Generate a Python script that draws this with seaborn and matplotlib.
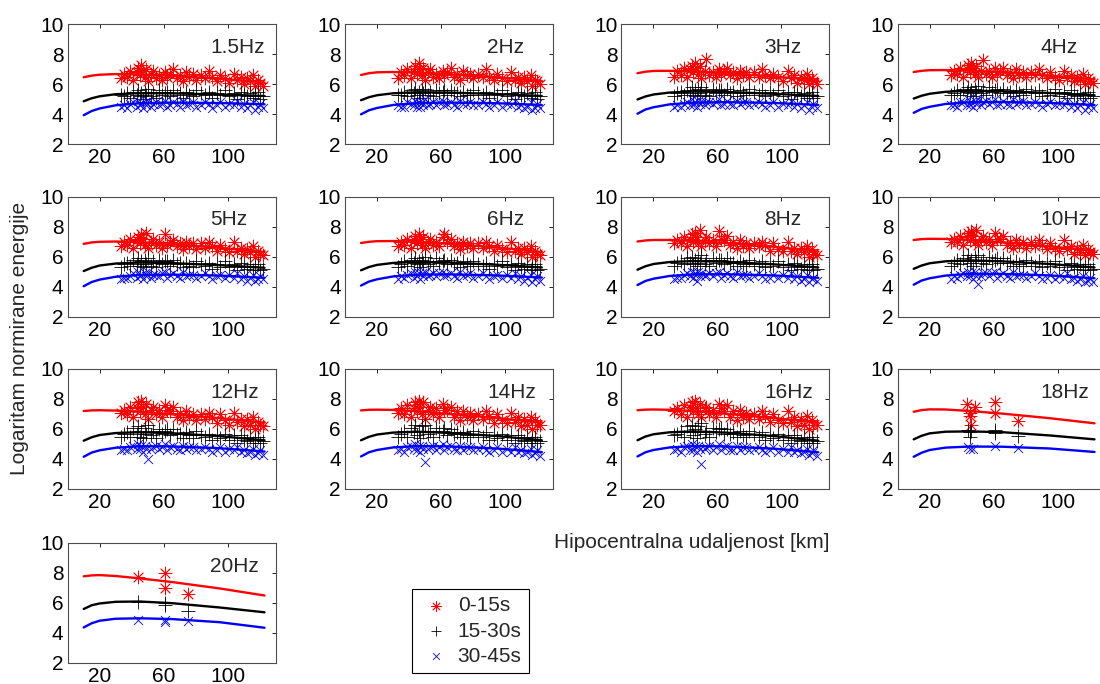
import numpy as np
import pandas as pd
import matplotlib
matplotlib.use('Agg')
import matplotlib.pyplot as plt
import seaborn as sns

# --------- DATA ----------
freq_labels = ['1.5Hz', '2Hz', '3Hz', '4Hz', '5Hz', '6Hz', '8Hz', '10Hz',
               '12Hz', '14Hz', '16Hz', '18Hz', '20Hz']
window_labels = ['0-15s', '15-30s', '30-45s']

# hypocentral distance of the events used for 1.5 - 16 Hz
dist_km = [33, 35, 37, 39, 41, 43, 44, 45, 46, 47, 48, 49, 50, 52, 53, 55,
           57, 59, 61, 62, 64, 66, 68, 70, 72, 74, 76, 78, 80, 83, 86, 88,
           90, 93, 95, 98, 101, 104, 106, 108, 110, 112, 114, 116, 117, 119, 120, 122]

# window 0-15s, one list per frequency (1.5 ... 16 Hz)
red_pts = [
    [6.4, 6.7, 6.5, 6.9, 6.3, 6.8, 7.1, 6.6, 7.3, 6.9, 6.5, 7.0, 6.2, 6.7, 6.9, 6.4, 6.6, 6.3, 6.8, 6.5, 6.7, 7.0, 6.4, 6.6, 6.2, 6.8, 6.5, 6.7, 6.3, 6.6, 6.4, 6.9, 6.5, 6.2, 6.6, 6.4, 6.1, 6.7, 6.3, 6.5, 6.0, 6.4, 6.2, 6.6, 5.9, 6.3, 6.1, 5.9],
    [6.4, 6.8, 6.6, 7.0, 6.4, 6.9, 7.2, 6.7, 7.4, 7.0, 6.6, 7.1, 6.3, 6.8, 7.0, 6.5, 6.7, 6.4, 6.9, 6.6, 6.8, 7.1, 6.5, 6.7, 6.3, 6.9, 6.6, 6.7, 6.4, 6.7, 6.5, 7.0, 6.5, 6.3, 6.7, 6.4, 6.2, 6.8, 6.3, 6.5, 6.1, 6.5, 6.2, 6.6, 5.9, 6.3, 6.2, 6.0],
    [6.5, 6.9, 6.6, 7.1, 6.5, 7.0, 7.2, 6.8, 7.4, 7.1, 6.7, 7.2, 6.4, 6.9, 7.7, 6.6, 6.8, 6.5, 7.0, 6.7, 6.9, 7.1, 6.6, 6.8, 6.4, 6.9, 6.6, 6.8, 6.5, 6.8, 6.5, 7.0, 6.6, 6.4, 6.7, 6.5, 6.2, 6.9, 6.4, 6.6, 6.1, 6.5, 6.3, 6.7, 6.0, 6.4, 6.2, 6.0],
    [6.6, 6.9, 6.7, 7.1, 6.5, 7.0, 7.3, 6.8, 7.4, 7.1, 6.7, 7.2, 6.5, 6.9, 7.6, 6.7, 6.9, 6.5, 7.1, 6.7, 6.9, 7.1, 6.6, 6.8, 6.4, 7.0, 6.6, 6.8, 6.5, 6.8, 6.6, 7.0, 6.6, 6.4, 6.8, 6.5, 6.3, 6.9, 6.4, 6.6, 6.2, 6.5, 6.3, 6.7, 6.0, 6.4, 6.2, 6.1],
    [6.7, 7.0, 6.8, 7.2, 6.6, 7.1, 7.3, 6.9, 7.5, 7.2, 6.8, 7.6, 6.6, 7.0, 7.2, 6.8, 7.0, 6.6, 7.5, 6.8, 7.0, 7.1, 6.7, 6.9, 6.5, 7.0, 6.7, 6.9, 6.5, 6.9, 6.6, 7.0, 6.7, 6.4, 6.8, 6.5, 6.3, 7.0, 6.4, 6.6, 6.2, 6.5, 6.3, 6.7, 6.0, 6.4, 6.2, 6.1],
    [6.7, 7.0, 6.8, 7.2, 6.6, 7.1, 7.4, 6.9, 7.5, 7.2, 6.8, 7.3, 6.6, 7.0, 7.2, 6.8, 7.0, 6.7, 7.3, 7.5, 7.0, 7.2, 6.7, 6.9, 6.5, 7.0, 6.7, 6.9, 6.6, 6.9, 6.6, 7.0, 6.7, 6.4, 6.8, 6.5, 6.3, 7.0, 6.4, 6.6, 6.2, 6.6, 6.3, 6.7, 6.0, 6.4, 6.2, 6.1],
    [6.9, 7.1, 6.9, 7.3, 6.7, 7.2, 7.5, 7.0, 7.6, 7.3, 6.9, 7.8, 6.7, 7.1, 7.3, 6.9, 7.1, 6.7, 7.7, 7.2, 7.1, 7.4, 6.8, 7.0, 6.6, 7.1, 6.7, 6.9, 6.6, 6.9, 6.7, 7.0, 6.8, 6.4, 6.9, 6.5, 6.4, 7.0, 6.4, 6.6, 6.2, 6.6, 6.3, 6.7, 6.0, 6.5, 6.2, 6.1],
    [7.0, 7.2, 7.0, 7.4, 6.8, 7.3, 7.6, 7.1, 7.7, 7.4, 7.0, 7.8, 6.8, 7.2, 7.4, 7.0, 7.2, 6.8, 7.6, 7.2, 7.2, 7.4, 6.8, 7.0, 6.6, 7.1, 6.8, 7.0, 6.6, 7.0, 6.7, 7.1, 6.8, 6.5, 6.9, 6.6, 6.4, 7.1, 6.5, 6.7, 6.2, 6.6, 6.3, 6.8, 6.1, 6.5, 6.3, 6.2],
    [7.1, 7.3, 7.0, 7.5, 6.8, 7.4, 7.8, 7.2, 7.9, 7.5, 7.0, 7.7, 6.7, 7.3, 7.5, 7.0, 7.3, 6.8, 7.6, 7.3, 7.2, 7.5, 6.8, 7.1, 6.6, 7.2, 6.8, 7.0, 6.6, 7.0, 6.7, 7.1, 6.8, 6.4, 7.0, 6.6, 6.3, 7.1, 6.5, 6.7, 6.2, 6.7, 6.3, 6.8, 6.0, 6.5, 6.3, 6.2],
    [7.1, 7.4, 7.0, 7.6, 6.8, 7.4, 7.8, 7.2, 7.9, 7.5, 7.0, 7.8, 6.7, 7.3, 7.5, 7.0, 7.4, 6.8, 7.7, 7.3, 7.3, 7.5, 6.8, 7.2, 6.6, 7.2, 6.8, 7.1, 6.6, 7.0, 6.7, 7.2, 6.9, 6.4, 7.0, 6.6, 6.4, 7.1, 6.5, 6.8, 6.2, 6.7, 6.3, 6.8, 6.0, 6.6, 6.3, 6.3],
    [7.2, 7.4, 7.0, 7.6, 6.8, 7.5, 7.8, 7.2, 7.9, 7.4, 7.0, 7.7, 6.8, 7.4, 7.5, 7.0, 7.3, 6.8, 7.7, 7.4, 7.2, 7.6, 6.8, 7.2, 6.6, 7.3, 6.8, 7.1, 6.7, 7.0, 6.7, 7.2, 6.9, 6.5, 7.0, 6.6, 6.4, 7.2, 6.5, 6.8, 6.2, 6.7, 6.3, 6.9, 6.0, 6.6, 6.3, 6.3],
]

# window 15-30s
black_pts = [
    [5.3, 5.2, 5.4, 5.1, 5.5, 5.3, 5.6, 5.2, 5.4, 5.0, 5.5, 5.3, 5.7, 5.2, 5.4, 5.1, 5.6, 5.3, 5.4, 5.5, 5.2, 5.6, 5.3, 5.4, 5.1, 5.5, 5.3, 5.2, 5.6, 5.4, 5.3, 5.5, 5.1, 5.4, 5.3, 5.6, 5.2, 5.4, 5.0, 5.5, 5.3, 5.2, 5.4, 5.1, 5.3, 5.5, 5.0, 5.2],
    [5.3, 5.3, 5.5, 5.2, 5.6, 5.4, 5.7, 5.3, 5.5, 5.1, 5.6, 5.4, 5.7, 5.3, 5.5, 5.2, 5.6, 5.4, 5.5, 5.6, 5.3, 5.6, 5.4, 5.4, 5.2, 5.5, 5.3, 5.3, 5.6, 5.4, 5.3, 5.5, 5.1, 5.4, 5.3, 5.6, 5.2, 5.4, 5.0, 5.5, 5.3, 5.2, 5.4, 5.1, 5.3, 5.5, 5.0, 5.2],
    [5.2, 5.4, 5.5, 5.3, 5.6, 5.4, 5.8, 5.3, 5.6, 5.2, 5.7, 5.4, 5.8, 5.3, 5.6, 5.2, 5.7, 5.4, 5.6, 5.6, 5.3, 5.7, 5.4, 5.5, 5.2, 5.6, 5.4, 5.3, 5.7, 5.5, 5.3, 5.6, 5.2, 5.5, 5.3, 5.6, 5.2, 5.5, 5.0, 5.5, 5.3, 5.2, 5.4, 5.1, 5.3, 5.5, 5.1, 5.2],
    [5.3, 5.4, 5.6, 5.3, 5.7, 5.5, 5.8, 5.4, 5.6, 5.2, 5.7, 5.5, 5.9, 5.4, 5.6, 5.3, 5.8, 5.5, 5.6, 5.7, 5.4, 5.7, 5.4, 5.5, 5.2, 5.6, 5.4, 5.3, 5.7, 5.5, 5.4, 5.6, 5.2, 5.5, 5.3, 5.7, 5.2, 5.5, 5.1, 5.6, 5.3, 5.2, 5.4, 5.1, 5.3, 5.5, 5.1, 5.2],
    [5.3, 5.5, 5.6, 5.4, 5.8, 5.5, 5.9, 5.4, 5.7, 5.3, 5.8, 5.5, 5.9, 5.4, 5.7, 5.3, 5.8, 5.5, 5.7, 5.7, 5.4, 5.8, 5.5, 5.6, 5.3, 5.6, 5.4, 5.3, 5.7, 5.5, 5.4, 5.6, 5.2, 5.5, 5.3, 5.7, 5.3, 5.5, 5.1, 5.6, 5.3, 5.2, 5.5, 5.1, 5.3, 5.5, 5.1, 5.2],
    [5.3, 5.5, 5.7, 5.4, 5.8, 5.6, 5.9, 5.5, 5.7, 5.3, 5.8, 5.6, 6.0, 5.5, 5.7, 5.4, 5.9, 5.6, 5.7, 5.8, 5.5, 5.8, 5.5, 5.6, 5.3, 5.7, 5.5, 5.4, 5.7, 5.5, 5.4, 5.6, 5.2, 5.5, 5.4, 5.7, 5.3, 5.5, 5.1, 5.6, 5.3, 5.2, 5.5, 5.1, 5.3, 5.5, 5.1, 5.2],
    [5.4, 5.6, 5.7, 5.5, 5.9, 5.6, 6.0, 5.5, 5.8, 5.4, 5.9, 5.6, 6.1, 5.5, 5.8, 5.4, 5.9, 5.6, 5.8, 5.8, 5.5, 5.9, 5.6, 5.6, 5.4, 5.7, 5.5, 5.4, 5.8, 5.5, 5.4, 5.7, 5.3, 5.5, 5.4, 5.7, 5.3, 5.5, 5.1, 5.6, 5.3, 5.2, 5.5, 5.1, 5.3, 5.5, 5.1, 5.2],
    [5.4, 5.6, 5.8, 5.5, 5.9, 5.7, 6.1, 5.6, 5.8, 5.4, 6.0, 5.7, 6.1, 5.6, 5.8, 5.5, 6.0, 5.7, 5.8, 5.9, 5.6, 5.9, 5.6, 5.7, 5.4, 5.7, 5.5, 5.4, 5.8, 5.6, 5.4, 5.7, 5.3, 5.6, 5.4, 5.7, 5.3, 5.5, 5.1, 5.6, 5.3, 5.2, 5.5, 5.1, 5.3, 5.5, 5.1, 5.2],
    [5.5, 5.7, 5.8, 5.5, 6.1, 5.7, 6.2, 5.5, 5.9, 5.4, 6.1, 5.7, 6.3, 5.6, 5.9, 5.4, 6.0, 5.7, 5.9, 6.0, 5.6, 6.0, 5.7, 5.7, 5.4, 5.8, 5.6, 5.4, 5.9, 5.6, 5.5, 5.7, 5.3, 5.6, 5.4, 5.7, 5.3, 5.6, 5.1, 5.6, 5.3, 5.2, 5.5, 5.1, 5.3, 5.5, 5.1, 5.2],
    [5.5, 5.7, 5.9, 5.5, 6.1, 5.8, 6.3, 5.6, 5.9, 5.4, 6.2, 5.8, 6.3, 5.7, 5.9, 5.5, 6.1, 5.8, 5.9, 6.1, 5.6, 6.0, 5.7, 5.8, 5.5, 5.8, 5.6, 5.5, 5.9, 5.6, 5.5, 5.8, 5.3, 5.6, 5.4, 5.7, 5.3, 5.6, 5.1, 5.6, 5.3, 5.2, 5.5, 5.1, 5.3, 5.5, 5.1, 5.2],
    [5.6, 5.7, 5.9, 5.5, 6.2, 5.8, 6.3, 5.6, 6.0, 5.4, 6.2, 5.8, 6.4, 5.7, 5.9, 5.5, 6.1, 5.8, 6.0, 6.1, 5.7, 6.0, 5.7, 5.8, 5.5, 5.9, 5.6, 5.5, 5.9, 5.7, 5.5, 5.8, 5.3, 5.6, 5.4, 5.7, 5.3, 5.6, 5.1, 5.6, 5.3, 5.2, 5.5, 5.1, 5.3, 5.5, 5.1, 5.2],
]

# window 30-45s
blue_pts = [
    [4.5, 4.6, 4.4, 4.7, 4.8, 4.5, 4.9, 4.6, 4.7, 4.4, 4.8, 4.6, 4.9, 4.5, 4.7, 4.8, 4.6, 4.7, 4.9, 4.5, 4.6, 4.8, 4.7, 4.5, 4.9, 4.6, 4.7, 4.8, 4.5, 4.6, 4.8, 4.7, 4.4, 4.6, 4.8, 4.5, 4.7, 4.6, 4.9, 4.5, 4.7, 4.4, 4.6, 4.8, 4.3, 4.5, 4.7, 4.4],
    [4.6, 4.5, 4.5, 4.8, 4.7, 4.6, 4.9, 4.5, 4.8, 4.5, 4.8, 4.6, 5.0, 4.6, 4.7, 4.8, 4.6, 4.8, 4.9, 4.6, 4.7, 4.8, 4.6, 4.5, 4.9, 4.7, 4.7, 4.8, 4.6, 4.6, 4.8, 4.7, 4.5, 4.6, 4.8, 4.5, 4.7, 4.6, 4.9, 4.5, 4.6, 4.4, 4.5, 4.8, 4.3, 4.4, 4.7, 4.4],
    [4.5, 4.6, 4.5, 4.7, 4.8, 4.6, 5.0, 4.6, 4.8, 4.5, 4.9, 4.7, 4.9, 4.6, 4.8, 4.8, 4.7, 4.8, 5.0, 4.6, 4.7, 4.9, 4.7, 4.6, 4.9, 4.7, 4.8, 4.8, 4.6, 4.7, 4.8, 4.7, 4.5, 4.6, 4.8, 4.5, 4.7, 4.6, 4.9, 4.5, 4.7, 4.4, 4.6, 4.8, 4.3, 4.5, 4.7, 4.4],
    [4.6, 4.6, 4.5, 4.8, 4.8, 4.6, 5.0, 4.6, 4.8, 4.5, 4.9, 4.7, 5.0, 4.6, 4.8, 4.9, 4.7, 4.8, 5.0, 4.6, 4.7, 4.9, 4.7, 4.6, 5.0, 4.7, 4.8, 4.9, 4.6, 4.7, 4.8, 4.7, 4.5, 4.7, 4.8, 4.6, 4.7, 4.6, 4.9, 4.5, 4.7, 4.4, 4.6, 4.8, 4.3, 4.5, 4.7, 4.4],
    [4.5, 4.6, 4.6, 4.7, 4.9, 4.6, 5.0, 4.7, 4.8, 4.5, 4.9, 4.7, 5.0, 4.6, 4.8, 4.8, 4.7, 4.9, 5.0, 4.6, 4.8, 4.9, 4.7, 4.6, 5.0, 4.7, 4.8, 4.8, 4.6, 4.7, 4.9, 4.7, 4.5, 4.7, 4.8, 4.6, 4.8, 4.6, 4.9, 4.5, 4.7, 4.4, 4.6, 4.8, 4.4, 4.5, 4.7, 4.5],
    [4.5, 4.7, 4.6, 4.8, 4.9, 4.6, 5.0, 4.7, 4.9, 4.5, 4.9, 4.7, 5.0, 4.7, 4.8, 4.9, 4.7, 4.9, 5.0, 4.7, 4.8, 4.9, 4.7, 4.6, 5.0, 4.7, 4.8, 4.9, 4.6, 4.7, 4.9, 4.7, 4.5, 4.7, 4.8, 4.6, 4.8, 4.6, 4.9, 4.5, 4.7, 4.4, 4.6, 4.8, 4.3, 4.5, 4.7, 4.4],
    [4.5, 4.6, 4.6, 4.8, 4.9, 4.7, 5.0, 4.6, 4.9, 4.4, 5.0, 4.7, 4.9, 4.7, 4.8, 4.9, 4.7, 4.9, 5.0, 4.6, 4.8, 4.9, 4.7, 4.6, 5.0, 4.7, 4.8, 4.8, 4.6, 4.7, 4.9, 4.7, 4.5, 4.6, 4.8, 4.6, 4.8, 4.6, 4.9, 4.5, 4.7, 4.4, 4.5, 4.8, 4.3, 4.5, 4.6, 4.4],
    [4.5, 4.7, 4.6, 4.8, 4.9, 4.7, 5.0, 4.7, 4.9, 4.5, 5.0, 4.7, 4.2, 4.7, 4.9, 4.9, 4.7, 4.9, 5.0, 4.6, 4.8, 4.9, 4.7, 4.6, 5.0, 4.7, 4.8, 4.8, 4.6, 4.7, 4.9, 4.7, 4.5, 4.6, 4.8, 4.5, 4.7, 4.6, 4.9, 4.5, 4.6, 4.4, 4.5, 4.7, 4.3, 4.4, 4.6, 4.3],
    [4.6, 4.7, 4.6, 4.8, 4.9, 4.7, 5.0, 4.7, 4.9, 4.5, 4.9, 4.7, 4.0, 4.7, 4.8, 4.9, 4.7, 4.8, 5.0, 4.6, 4.8, 4.9, 4.7, 4.6, 4.9, 4.7, 4.8, 4.8, 4.6, 4.7, 4.8, 4.7, 4.5, 4.6, 4.8, 4.5, 4.7, 4.6, 4.8, 4.5, 4.6, 4.4, 4.5, 4.7, 4.3, 4.4, 4.6, 4.3],
    [4.6, 4.7, 4.5, 4.8, 4.9, 4.7, 5.0, 4.6, 4.9, 4.5, 4.9, 4.7, 3.8, 4.7, 4.8, 4.9, 4.6, 4.8, 5.0, 4.6, 4.8, 4.9, 4.7, 4.6, 4.9, 4.6, 4.8, 4.8, 4.6, 4.7, 4.8, 4.6, 4.5, 4.6, 4.8, 4.5, 4.7, 4.5, 4.8, 4.5, 4.6, 4.4, 4.5, 4.7, 4.3, 4.4, 4.6, 4.2],
    [4.6, 4.7, 4.5, 4.8, 4.9, 4.6, 5.0, 4.6, 4.9, 4.5, 4.9, 4.7, 3.65, 4.7, 4.8, 4.9, 4.6, 4.8, 5.0, 4.6, 4.8, 4.9, 4.6, 4.6, 4.9, 4.6, 4.8, 4.8, 4.6, 4.7, 4.8, 4.6, 4.5, 4.6, 4.8, 4.5, 4.7, 4.5, 4.8, 4.5, 4.6, 4.4, 4.5, 4.7, 4.3, 4.4, 4.6, 4.2],
]

# 18 Hz and 20 Hz: only a few events
red_km_18 = [43, 45, 45, 46, 48, 61, 61, 75]
red_val_18 = [7.7, 7.1, 6.9, 6.3, 7.5, 7.8, 7.05, 6.55]
black_km_18 = [44, 45, 45, 46, 61, 61, 75]
black_val_18 = [5.95, 5.8, 5.5, 5.9, 5.95, 5.75, 5.55]
blue_km_18 = [44, 45, 47, 61, 75]
blue_val_18 = [4.8, 4.7, 4.7, 4.85, 4.75]

red_km_20 = [44, 61, 61, 75]
red_val_20 = [7.75, 8.0, 7.0, 6.6]
black_km_20 = [44, 61, 61, 75]
black_val_20 = [6.1, 6.0, 5.85, 5.45]
blue_km_20 = [44, 61, 61, 75]
blue_val_20 = [4.85, 4.85, 4.75, 4.8]

# fitted attenuation curves, one list per frequency
curve_km = [10, 15, 20, 30, 45, 65, 95, 123]
red_fit = [
    [6.45, 6.56, 6.62, 6.66, 6.64, 6.55, 6.35, 6.10],
    [6.60, 6.72, 6.78, 6.80, 6.76, 6.65, 6.45, 6.20],
    [6.72, 6.82, 6.87, 6.88, 6.84, 6.72, 6.50, 6.25],
    [6.80, 6.88, 6.92, 6.93, 6.90, 6.78, 6.56, 6.30],
    [6.84, 6.94, 6.98, 7.00, 6.96, 6.82, 6.58, 6.30],
    [6.90, 6.98, 7.02, 7.03, 6.98, 6.85, 6.60, 6.30],
    [7.00, 7.07, 7.10, 7.10, 7.04, 6.90, 6.65, 6.33],
    [7.10, 7.16, 7.18, 7.17, 7.10, 6.95, 6.68, 6.37],
    [7.20, 7.24, 7.25, 7.23, 7.15, 6.99, 6.72, 6.42],
    [7.24, 7.28, 7.29, 7.27, 7.18, 7.01, 6.73, 6.43],
    [7.25, 7.29, 7.30, 7.28, 7.19, 7.02, 6.73, 6.43],
    [7.15, 7.26, 7.31, 7.30, 7.20, 7.03, 6.72, 6.38],
    [7.78, 7.84, 7.86, 7.80, 7.64, 7.40, 6.97, 6.50],
]
black_fit = [
    [4.85, 5.05, 5.18, 5.32, 5.39, 5.38, 5.30, 5.20],
    [4.92, 5.12, 5.25, 5.38, 5.45, 5.43, 5.33, 5.20],
    [4.97, 5.17, 5.30, 5.43, 5.50, 5.47, 5.35, 5.20],
    [5.03, 5.22, 5.35, 5.48, 5.55, 5.52, 5.40, 5.25],
    [5.03, 5.25, 5.40, 5.53, 5.60, 5.56, 5.42, 5.25],
    [5.08, 5.30, 5.44, 5.57, 5.64, 5.60, 5.45, 5.27],
    [5.12, 5.35, 5.50, 5.63, 5.70, 5.65, 5.48, 5.27],
    [5.18, 5.40, 5.55, 5.68, 5.74, 5.68, 5.50, 5.27],
    [5.22, 5.45, 5.60, 5.73, 5.79, 5.72, 5.52, 5.25],
    [5.25, 5.48, 5.63, 5.76, 5.82, 5.74, 5.53, 5.25],
    [5.25, 5.50, 5.65, 5.78, 5.84, 5.76, 5.53, 5.22],
    [5.31, 5.55, 5.71, 5.82, 5.84, 5.79, 5.57, 5.31],
    [5.60, 5.85, 5.97, 6.08, 6.10, 5.99, 5.70, 5.38],
]
blue_fit = [
    [3.92, 4.20, 4.37, 4.58, 4.72, 4.76, 4.73, 4.65],
    [3.98, 4.25, 4.40, 4.60, 4.73, 4.76, 4.72, 4.60],
    [4.02, 4.30, 4.45, 4.64, 4.76, 4.79, 4.74, 4.60],
    [4.08, 4.34, 4.48, 4.67, 4.78, 4.80, 4.74, 4.60],
    [4.02, 4.30, 4.46, 4.65, 4.77, 4.79, 4.73, 4.58],
    [4.06, 4.33, 4.48, 4.67, 4.79, 4.81, 4.74, 4.60],
    [4.10, 4.37, 4.52, 4.70, 4.81, 4.82, 4.74, 4.58],
    [4.12, 4.40, 4.55, 4.73, 4.84, 4.84, 4.74, 4.55],
    [4.15, 4.43, 4.58, 4.75, 4.85, 4.84, 4.72, 4.50],
    [4.17, 4.45, 4.60, 4.77, 4.86, 4.84, 4.70, 4.46],
    [4.17, 4.45, 4.60, 4.77, 4.86, 4.84, 4.69, 4.45],
    [4.15, 4.42, 4.60, 4.76, 4.83, 4.82, 4.70, 4.47],
    [4.37, 4.65, 4.82, 4.95, 4.98, 4.93, 4.72, 4.35],
]

# --------- STYLE ----------
sns.set_style('white')
plt.rcParams['font.family'] = ['Liberation Sans', 'DejaVu Sans']

FS = 15
W_PX, H_PX = 1100, 684
col_left = [67.7, 345.0, 621.5, 897.7]
row_top = [24, 196.5, 369, 543]
ax_w, ax_h = 208, 120

ASTER = (8, 2, 0)
styles = [
    dict(marker=ASTER, color='red', s=85),
    dict(marker='+', color='black', s=100),
    dict(marker='x', color='blue', s=42),
]

fig = plt.figure(figsize=(11, 6.84), dpi=100)

for i, lab in enumerate(freq_labels):
    r, c = divmod(i, 4)
    ax = fig.add_axes([col_left[c] / W_PX, 1 - (row_top[r] + ax_h) / H_PX,
                       ax_w / W_PX, ax_h / H_PX])

    if i < 11:
        pts = [(dist_km, red_pts[i]), (dist_km, black_pts[i]), (dist_km, blue_pts[i])]
    elif i == 11:
        pts = [(red_km_18, red_val_18), (black_km_18, black_val_18), (blue_km_18, blue_val_18)]
    else:
        pts = [(red_km_20, red_val_20), (black_km_20, black_val_20), (blue_km_20, blue_val_20)]

    # fitted curves first, measured points on top
    for fit, col in zip([red_fit[i], black_fit[i], blue_fit[i]], ['red', 'black', 'blue']):
        sns.lineplot(x=curve_km, y=fit, ax=ax, color=col, lw=1.7,
                     estimator=None, sort=False, legend=False)

    for (xk, yv), st, wl in zip(pts, styles, window_labels):
        sns.scatterplot(x=xk, y=yv, ax=ax, marker=st['marker'], color=st['color'],
                        s=st['s'], linewidth=0.6, label=wl, legend=False, zorder=3)

    ax.set_xlim(0, 130)
    ax.set_ylim(2, 10)
    ax.set_xticks([20, 60, 100])
    ax.set_yticks([2, 4, 6, 8, 10])
    ax.tick_params(direction='in', top=True, right=True, length=3, width=0.6,
                   labelsize=FS, pad=3, colors='black')
    for sp in ax.spines.values():
        sp.set_color('0.3')
        sp.set_linewidth(0.8)
    ax.set_xlabel('')
    ax.set_ylabel('')
    ax.text(89, 8.45, lab, fontsize=FS, ha='left', va='center')

handles, labels = ax.get_legend_handles_labels()

fig.text(692 / W_PX, 1 - 543 / H_PX, 'Hipocentralna udaljenost [km]',
         fontsize=FS, ha='center', va='center')
fig.text(20 / W_PX, 1 - 338 / H_PX, 'Logaritam normirane energije',
         fontsize=FS, ha='center', va='center', rotation=90)

leg = fig.legend(handles, labels, loc='upper left',
                 bbox_to_anchor=(411.7 / W_PX, 1 - 589 / H_PX), borderaxespad=0,
                 frameon=True, fancybox=False, edgecolor='black', framealpha=1,
                 fontsize=FS, borderpad=0.35, labelspacing=0.3, handlelength=1.6,
                 handletextpad=0.26, markerscale=0.75)
leg.get_frame().set_linewidth(0.8)

plt.savefig('out.png', dpi=100)
plt.close()
